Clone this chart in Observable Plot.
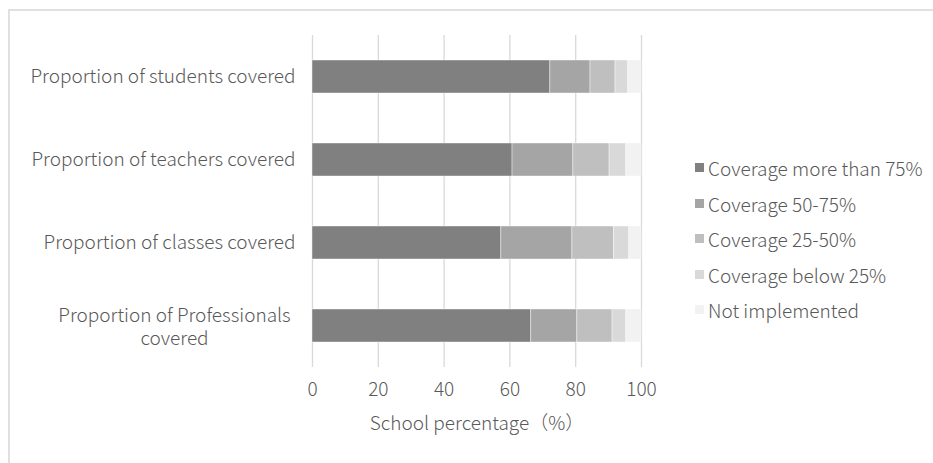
<!DOCTYPE html>
<html>
<head>
<meta charset="utf-8">
<script src="https://cdn.jsdelivr.net/npm/d3@7"></script>
<script src="https://cdn.jsdelivr.net/npm/@observablehq/plot@0.6"></script>
<style>
  html, body { margin: 0; padding: 0; background: #fff; }
  #wrap { position: relative; width: 933px; height: 463px; overflow: hidden; font-family: "Noto Sans CJK SC", "Noto Sans", sans-serif; }
  #border { position: absolute; left: 8px; top: 9px; width: 1000px; height: 1000px; border: 2px solid #e0e0e0; box-sizing: border-box; }
  #chart { position: absolute; left: 0; top: 0; }
  #legend { position: absolute; left: 695px; top: 150px; width: 236px; }
  .lg-swatches { font-family: "Noto Sans CJK SC", "Noto Sans", sans-serif !important; font-size: 19px !important; font-weight: 300 !important; color: #595959 !important; margin: 0 !important; min-height: 0 !important; }
  .lg-swatch { height: 35.5px !important; margin: 0 !important; display: flex !important; align-items: center; white-space: nowrap; }
  .lg-swatch svg { margin-right: 4px !important; }
</style>
</head>
<body>
<div id="wrap">
  <div id="border"></div>
  <div id="chart"></div>
  <div id="legend"></div>
</div>
<script>
const categories = [
  "Proportion of students covered",
  "Proportion of teachers covered",
  "Proportion of classes covered",
  "Proportion of Professionals covered"
];
const categoryLines = [
  ["Proportion of students covered"],
  ["Proportion of teachers covered"],
  ["Proportion of classes covered"],
  ["Proportion of Professionals", "covered"]
];
const series = [
  "Coverage more than 75%",
  "Coverage 50-75%",
  "Coverage 25-50%",
  "Coverage below 25%",
  "Not implemented"
];
const colors = ["#808080", "#a5a5a5", "#bfbfbf", "#d9d9d9", "#f2f2f2"];
const moreThan75 = [72.3, 60.8, 57.4, 66.5];
const cov50to75  = [12.2, 18.5, 21.6, 14.0];
const cov25to50  = [7.6, 11.0, 12.7, 10.7];
const below25    = [3.9, 5.1, 4.6, 4.2];
const notImpl    = [4.0, 4.6, 3.7, 4.6];
const xTicks = [0, 20, 40, 60, 80, 100];
const xLabel = "School percentage（%）";

const seriesValues = [moreThan75, cov50to75, cov25to50, below25, notImpl];
const rows = [];
series.forEach((s, si) => categories.forEach((c, ci) => rows.push({cat: c, series: s, value: seriesValues[si][ci]})));

const singleLabels = categories.filter((c, i) => categoryLines[i].length === 1);
const multiLabels = categories.filter((c, i) => categoryLines[i].length > 1);
const textColor = "#595959";
const font = "\"Noto Sans CJK SC\", \"Noto Sans\", sans-serif";

const plot = Plot.plot({
  width: 933,
  height: 463,
  marginLeft: 312,
  marginRight: 292,
  marginTop: 35,
  marginBottom: 96,
  style: {fontFamily: font, fontSize: "19px", fontWeight: 300, color: textColor, background: "transparent"},
  x: {domain: [0, 100], ticks: xTicks},
  y: {domain: categories, paddingInner: 0.6, paddingOuter: 0.3, axis: null},
  color: {domain: series, range: colors},
  marks: [
    Plot.gridX(xTicks, {stroke: "#d9d9d9", strokeOpacity: 1, strokeWidth: 1.3}),
    Plot.barX(rows, Plot.stackX({x: "value", y: "cat", fill: "series", order: series, stroke: "#ffffff", strokeWidth: 0.6, strokeOpacity: 0.7})),
    Plot.axisX(xTicks, {tickSize: 0, tickPadding: 15, fill: textColor, fontSize: 19, label: null}),
    Plot.text([xLabel], {frameAnchor: "bottom", dy: 62, fill: textColor, fontSize: 19}),
    Plot.text(singleLabels, {y: d => d, text: d => d, frameAnchor: "left", textAnchor: "end", dx: -17, fill: textColor, fontSize: 19}),
    Plot.text(multiLabels, {y: d => d, text: d => categoryLines[categories.indexOf(d)].join("\n"), frameAnchor: "left", textAnchor: "middle", dx: -138, lineHeight: 1.25, fill: textColor, fontSize: 19})
  ]
});
document.getElementById("chart").appendChild(plot);

const legend = Plot.legend({
  color: {domain: series, range: colors},
  legend: "swatches",
  swatchSize: 9,
  className: "lg"
});
document.getElementById("legend").appendChild(legend);
</script>
</body>
</html>
